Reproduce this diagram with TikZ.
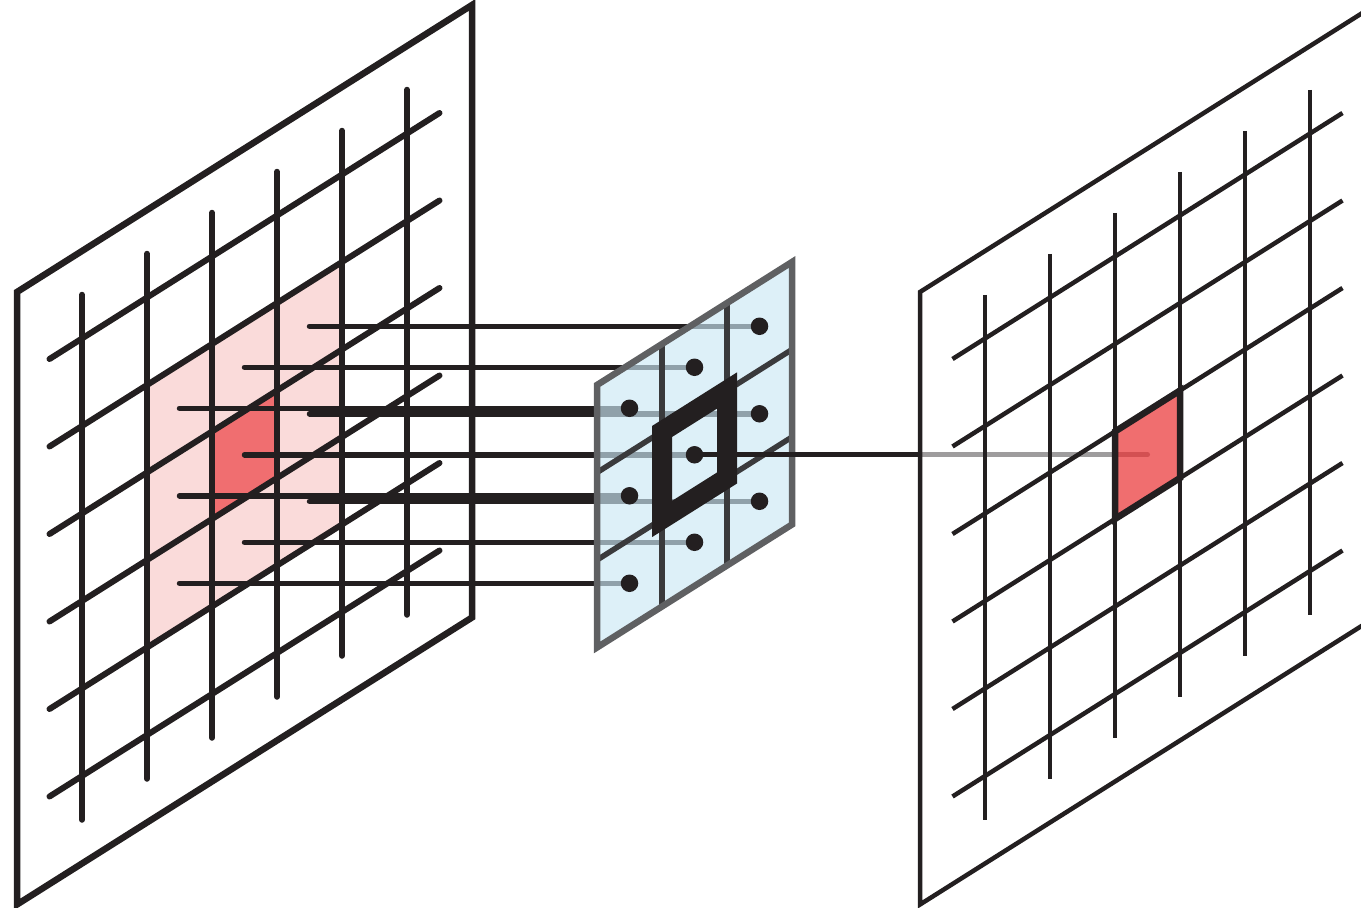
\documentclass[tikz,border=0pt]{standalone}
\usepackage{tikz}

\definecolor{ink}{HTML}{231F20}
\definecolor{pinkzone}{HTML}{FADBDA}
\definecolor{cellred}{HTML}{F06E70}
\definecolor{cellredthin}{RGB}{234,48,51}
\definecolor{kernelblue}{RGB}{203,232,245}
\definecolor{kernelrim}{HTML}{5F6062}
\definecolor{kernelline}{HTML}{3A3A3C}

\begin{document}
\begin{tikzpicture}[
    x=1pt, y=-1pt,
    skew/.style={x={(65pt,41pt)}, y={(0pt,-87.5pt)}},
    leftframe/.style={draw=ink, line width=6.5pt, line join=miter},
    leftgrid/.style={draw=ink, line width=6pt, line cap=round},
    rightframe/.style={draw=ink, line width=4.5pt, line join=miter, fill=white, fill opacity=0.56},
    rightgrid/.style={draw=ink, line width=4.5pt},
    link/.style={draw=ink, line width=5.5pt, line cap=round},
    outlink/.style={draw=ink, line width=5pt, line cap=round},
    kernelpane/.style={fill=kernelblue, fill opacity=0.65},
    kernelgrid/.style={draw=kernelline, line width=5.5pt},
    kernelborder/.style={draw=kernelrim, line width=6.5pt, line join=miter},
    focusbox/.style={draw=ink, line width=20pt, line join=miter},
    tapdot/.style={circle, fill=ink, inner sep=0pt, minimum size=17.5pt},
    hitcell/.style={fill=cellredthin, fill opacity=0.7, draw=ink, line width=6.5pt, draw opacity=1}
]
\useasboundingbox (0,0) rectangle (1361,908);

% kernel taps and target point
\begin{scope}[shift={(597pt,-385pt)}, skew]
  \foreach \a in {0,1,2}
    \foreach \b in {0,1,2}
      \coordinate (tap-\a-\b) at (\a+0.5,\b+0.5);
\end{scope}
\begin{scope}[shift={(985pt,-338.5pt)}, skew]
  \coordinate (hit) at (2.5,2.5);
\end{scope}

% input image
\begin{scope}[shift={(82pt,-338.5pt)}, skew]
  \fill[pinkzone] (1,1) -- (4,1) -- (4,4) -- (1,4) -- cycle;
  \fill[cellred] (2,2) -- (3,2) -- (3,3) -- (2,3) -- cycle;
  \draw[leftframe] (-1,-1) -- (6,-1) -- (6,6) -- (-1,6) -- cycle;
  \foreach \i in {0,...,5} {
    \draw[leftgrid] (\i,-0.5) -- (\i,5.5);
    \draw[leftgrid] (-0.5,\i) -- (5.5,\i);
  }
  \foreach \a in {0,1,2}
    \foreach \b in {0,1,2}
      \coordinate (src-\a-\b) at (\a+1.5,\b+1.5);
\end{scope}

% patch to kernel
\foreach \a in {0,1,2}
  \foreach \b in {0,1,2}
    \draw[link] (src-\a-\b) -- (tap-\a-\b);

% kernel
\begin{scope}[shift={(597pt,-385pt)}, skew]
  \fill[kernelpane] (0,0) -- (3,0) -- (3,3) -- (0,3) -- cycle;
  \foreach \i in {1,2} {
    \draw[kernelgrid] (\i,0) -- (\i,3);
    \draw[kernelgrid] (0,\i) -- (3,\i);
  }
  \draw[kernelborder] (0,0) -- (3,0) -- (3,3) -- (0,3) -- cycle;
  \draw[focusbox] (1,1) -- (2,1) -- (2,2) -- (1,2) -- cycle;
\end{scope}
\foreach \a in {0,1,2}
  \foreach \b in {0,1,2}
    \node[tapdot] (dot-\a-\b) at (tap-\a-\b) {};

% kernel to output
\draw[outlink] (dot-1-1) -- (hit);

% output image
\begin{scope}[shift={(985pt,-338.5pt)}, skew]
  \draw[rightframe] (-1,-1) -- (6,-1) -- (6,6) -- (-1,6) -- cycle;
  \foreach \i in {0,...,5} {
    \draw[rightgrid] (\i,-0.5) -- (\i,5.5);
    \draw[rightgrid] (-0.5,\i) -- (5.5,\i);
  }
  \draw[hitcell] (2,2) -- (3,2) -- (3,3) -- (2,3) -- cycle;
\end{scope}
\end{tikzpicture}
\end{document}
